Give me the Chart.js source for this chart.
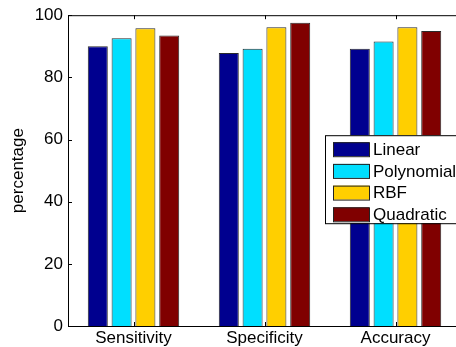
<!DOCTYPE html>
<html lang="en">
<head>
  <meta charset="UTF-8" />
  <title>Kernel comparison</title>
  <script src="https://cdn.jsdelivr.net/npm/chart.js"></script>
  <style>
    html, body { margin: 0; padding: 0; background: #fff; overflow: hidden; }
    canvas { display: block; }
  </style>
</head>
<body>
  <canvas id="chart" width="462" height="347"></canvas>
  <script>
    // data
    const categories = ['Sensitivity', 'Specificity', 'Accuracy'];
    const linear     = [90.0, 87.8, 89.2];
    const polynomial = [92.6, 89.2, 91.5];
    const rbf        = [95.8, 96.1, 96.1];
    const quadratic  = [93.5, 97.6, 94.9];
    const yTicks     = [0, 20, 40, 60, 80, 100];

    const FONT = '"Liberation Sans", Arial, sans-serif';

    // matlab-ish inward ticks + box on top/right
    const boxTicks = {
      id: 'boxTicks',
      afterDraw(chart) {
        const { ctx, chartArea: a, scales: { x, y } } = chart;
        ctx.save();
        ctx.strokeStyle = '#000';
        ctx.lineWidth = 1;
        ctx.beginPath();
        ctx.moveTo(a.left, a.top + 0.5);
        ctx.lineTo(a.right, a.top + 0.5);
        ctx.lineTo(a.right, a.bottom);
        yTicks.forEach(v => {
          const py = Math.round(y.getPixelForValue(v)) + 0.5;
          ctx.moveTo(a.left, py); ctx.lineTo(a.left + 4, py);
          ctx.moveTo(a.right, py); ctx.lineTo(a.right - 4, py);
        });
        categories.forEach((c, i) => {
          const px = Math.round(x.getPixelForValue(i)) + 0.5;
          ctx.moveTo(px, a.top); ctx.lineTo(px, a.top + 4);
          ctx.moveTo(px, a.bottom); ctx.lineTo(px, a.bottom - 4);
        });
        ctx.stroke();
        ctx.restore();
      }
    };

    // boxed legend inside the plot, right side
    const boxLegend = {
      id: 'boxLegend',
      afterDraw(chart) {
        const { ctx, chartArea: a } = chart;
        const x0 = a.right - 136, y0 = a.top + 120, w = 136, h = 88;
        ctx.save();
        ctx.fillStyle = '#fff';
        ctx.fillRect(x0, y0, w, h);
        ctx.strokeStyle = '#000';
        ctx.lineWidth = 1;
        ctx.strokeRect(x0 + 0.5, y0 + 0.5, w, h);
        ctx.font = '17px ' + FONT;
        ctx.textBaseline = 'middle';
        chart.data.datasets.forEach((ds, i) => {
          const cy = y0 + 14 + i * 21.7;
          ctx.fillStyle = ds.backgroundColor;
          ctx.fillRect(x0 + 8, cy - 7, 36, 14);
          ctx.strokeStyle = '#222';
          ctx.strokeRect(x0 + 8.5, cy - 6.5, 36, 14);
          ctx.fillStyle = '#000';
          ctx.fillText(ds.label, x0 + 48, cy + 1);
        });
        ctx.restore();
      }
    };

    new Chart(document.getElementById('chart'), {
      type: 'bar',
      data: {
        labels: categories,
        datasets: [
          { label: 'Linear', data: linear, backgroundColor: '#00008f' },
          { label: 'Polynomial', data: polynomial, backgroundColor: '#00dfff' },
          { label: 'RBF', data: rbf, backgroundColor: '#ffcf00' },
          { label: 'Quadratic', data: quadratic, backgroundColor: '#800000' }
        ].map(d => Object.assign(d, {
          borderColor: '#2a2a2a',
          borderWidth: 1,
          categoryPercentage: 0.727,
          barPercentage: 0.84
        }))
      },
      options: {
        responsive: false,
        animation: false,
        layout: { padding: { left: 0, top: 15, right: 1, bottom: 0 } },
        plugins: { legend: { display: false }, tooltip: { enabled: false } },
        scales: {
          x: {
            grid: { display: false, drawTicks: false },
            border: { display: true, color: '#000', width: 1 },
            ticks: { color: '#000', font: { family: FONT, size: 17 }, padding: 2, maxRotation: 0 },
            afterFit(s) { s.height = 21; }
          },
          y: {
            min: 0, max: 100,
            afterBuildTicks(s) { s.ticks = yTicks.map(v => ({ value: v })); },
            grid: { display: false, drawTicks: false },
            border: { display: true, color: '#000', width: 1 },
            ticks: { color: '#000', font: { family: FONT, size: 17 }, padding: 5 },
            title: {
              display: true, text: 'percentage', color: '#000',
              font: { family: FONT, size: 17 }, padding: { top: 8, bottom: 0 }
            },
            afterFit(s) { s.width = 68; }
          }
        }
      },
      plugins: [boxTicks, boxLegend]
    });
  </script>
</body>
</html>
